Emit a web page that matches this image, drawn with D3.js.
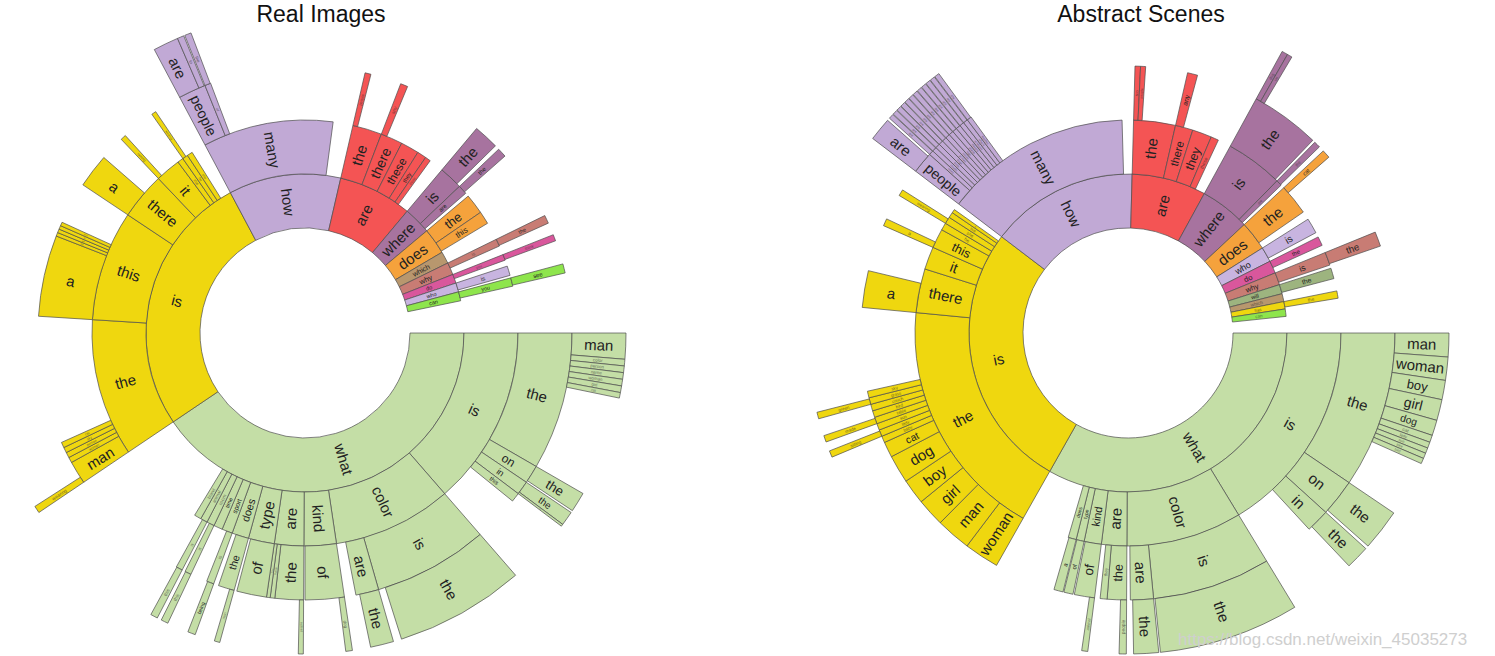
<!DOCTYPE html>
<html>
<head>
<meta charset="utf-8">
<script src="https://cdn.jsdelivr.net/npm/d3@7"></script>
<style>
  body { margin: 0; background: #fff; }
  svg { display: block; }
</style>
</head>
<body>
<svg id="chart" width="1495" height="656"></svg>
<script>
// ---- Data: share of questions for each word sequence (units: 1/360 of all questions) ----
// Children are listed in order; each child is packed from its parent's start.

// Real Images
const realLevel1 = [
  ["what", 146], ["is", 96], ["how", 41], ["are", 27], ["where", 10], ["does", 9.5],
  ["which", 4.4], ["why", 4.5], ["do", 3.3], ["who", 3.3], ["can", 3.3]
];
const realLevel2 = [
  ["what is", 49], ["what color", 32.5], ["what kind", 8.8], ["what are", 8], ["what type", 7.1],
  ["what does", 4.6], ["what sport", 2.9], ["what time", 2.4], ["what room", 2.1], ["what animal", 1.9], ["what brand", 1.9],
  ["is the", 37.6], ["is this", 30.1], ["is there", 12.8], ["is it", 6.9], ["is that", 1.6], ["is he", 1.5], ["is she", 1.5],
  ["how many", 35.6],
  ["are the", 8], ["are there", 6], ["are these", 5], ["are they", 2.5], ["are those", 1.5],
  ["where is", 6.5], ["where are", 2.5],
  ["does the", 5.5], ["does this", 3.5],
  ["why is", 2],
  ["do you", 1.6],
  ["who is", 2.6],
  ["can you", 2.3]
];
const realLevel3 = [
  ["what is the", 30], ["what is on", 4], ["what is in", 3], ["what is this", 2],
  ["what color is", 25], ["what color are", 5],
  ["what kind of", 8.5],
  ["what are the", 6.2], ["what are these", 1], ["what are they", 0.8],
  ["what type of", 6.5],
  ["what does the", 3.5],
  ["what sport is", 1.6],
  ["what room is", 1.4],
  ["what animal is", 1.4],
  ["is the man", 5], ["is the woman", 1.2], ["is the person", 1.2], ["is the sky", 1.2], ["is the cat", 1.2],
  ["is this a", 17.7], ["is this the", 0.8], ["is this an", 0.8], ["is this in", 0.8], ["is this your", 0.8],
  ["is there a", 7.4],
  ["is it raining", 1.2],
  ["is he wearing", 1.0],
  ["how many people", 6], ["how many of", 1.3],
  ["are the people", 1.3],
  ["are there any", 1.6],
  ["where is the", 5.5],
  ["where are the", 2],
  ["why is the", 1.8],
  ["do you think", 1.4],
  ["can you see", 2]
];
const realLevel4 = [
  ["what is the man", 4.7], ["what is the color", 1.2], ["what is the person", 1.2], ["what is the name", 1.2],
  ["what is the woman", 1.2], ["what is the girl", 1.2], ["what is the cat", 1.0],
  ["what is on the", 3.6],
  ["what is in the", 2.6], ["what is in this", 0.4],
  ["what color is the", 23.5],
  ["what color are the", 4.2],
  ["what kind of dog", 1.2],
  ["what are the people", 0.9],
  ["what does the man", 1.0],
  ["what sport is being", 1.4],
  ["what room is this", 1.3],
  ["what animal is this", 1.3],
  ["is the man wearing", 1.3],
  ["how many people are", 4.6], ["how many people in", 1.2],
  ["how many of the", 1.2]
];
const realColors = {
  what: "#c4dea6", is: "#efd70f", how: "#c1a9d5", are: "#f45454", where: "#a7739f",
  does: "#f5a23c", which: "#b8976e", why: "#c87c74", do: "#d9579c", who: "#c8b4e0", can: "#8ee54c"
};

// Abstract Scenes
const absLevel1 = [
  ["what", 119.5], ["is", 97.8], ["how", 54.2], ["are", 27.2], ["where", 18.3], ["does", 10.7],
  ["who", 5.5], ["do", 4.6], ["why", 4.5], ["will", 3.4], ["which", 2.9], ["has", 2.7], ["can", 2.7]
];
const absLevel2 = [
  ["what is", 58.7], ["what color", 31.6], ["what are", 6.9], ["what kind", 4.7], ["what type", 2.2], ["what does", 2.2],
  ["is the", 66], ["is there", 12], ["is it", 6.2], ["is this", 5.3], ["is he", 2], ["is she", 1.9], ["is that", 1.5], ["is a", 1],
  ["how many", 51.1],
  ["are the", 11.4], ["are there", 4.8], ["are they", 5.3], ["are these", 2.1],
  ["where is", 15.7], ["where are", 1.6],
  ["does the", 8.4],
  ["who is", 4.2],
  ["do the", 2.5],
  ["why is", 3.6],
  ["will the", 2.9],
  ["has the", 2]
];
const absLevel3 = [
  ["what is the", 34.1], ["what is on", 8.1], ["what is in", 5.1],
  ["what color is", 25.8], ["what color are", 5],
  ["what are the", 4.2], ["what are they", 1.5],
  ["what kind of", 4.4],
  ["what type of", 2],
  ["what does a", 2],
  ["is the woman", 7.6], ["is the man", 7.6], ["is the girl", 6.1], ["is the boy", 5.5], ["is the dog", 6.1],
  ["is the cat", 3.4], ["is the baby", 1.45], ["is the lady", 1.45], ["is the sun", 1.45], ["is the table", 1.45],
  ["is the bird", 1.45], ["is the couch", 1.45], ["is the grass", 1.45], ["is the sky", 1.45],
  ["is there a", 8],
  ["is this a", 1.6],
  ["is she wearing", 1.4],
  ["how many people", 4.7], ["how many trees", 1], ["how many clouds", 1], ["how many birds", 1], ["how many dogs", 1],
  ["how many pillows", 1], ["how many books", 1], ["how many logs", 1], ["how many plants", 1], ["how many flowers", 1],
  ["how many windows", 1], ["how many chairs", 1], ["how many bushes", 1],
  ["are the two", 1.2], ["are the people", 1.1],
  ["are there any", 2.2],
  ["where is the", 15.1],
  ["where are the", 1.4],
  ["does the cat", 1.8],
  ["why is the", 3.2]
];
const absLevel4 = [
  ["what is the man", 4.3], ["what is the woman", 4.2], ["what is the boy", 3.5], ["what is the girl", 3.8],
  ["what is the dog", 2.8], ["what is the cat", 1.3], ["what is the lady", 1.1], ["what is the sun", 1.0],
  ["what is the tree", 1.0], ["what is the bird", 1.0],
  ["what is on the", 7.5],
  ["what is in the", 4.3],
  ["what color is the", 25.5],
  ["what color are the", 4.5],
  ["what are the people", 1.3],
  ["what kind of animal", 1.1],
  ["is the lady sitting", 1.2], ["is the table made", 1.2], ["is the grass green", 1.2],
  ["how many people are", 4.2],
  ["how many trees are", 0.9], ["how many clouds are", 0.9], ["how many birds are", 0.9], ["how many dogs are", 0.9],
  ["how many pillows are", 0.9], ["how many books are", 0.9], ["how many logs are", 0.9], ["how many plants are", 0.9],
  ["how many flowers are", 0.9], ["how many windows are", 0.9], ["how many chairs are", 0.9], ["how many bushes are", 0.9],
  ["where is the dog", 1.1], ["where is the cat", 0.9]
];
const absColors = {
  what: "#c4dea6", is: "#efd70f", how: "#c1a9d5", are: "#f45454", where: "#a7739f",
  does: "#f5a23c", who: "#c8b4e0", do: "#d9579c", why: "#c87c74", will: "#9db47f",
  which: "#b8976e", has: "#efd70f", can: "#8ee54c"
};

const titles = ["Real Images", "Abstract Scenes"];
const watermark = "https://blog.csdn.net/weixin_45035273";

// ---- Drawing ----
const svg = d3.select("#chart");
const FULL = 360;
const START = Math.PI / 2; // first word starts at 3 o'clock, clockwise
const angle = d3.scaleLinear().domain([0, FULL]).range([0, 2 * Math.PI]);
const radius = d3.scaleLinear().domain([0, 1]).range([105, 159]); // ring index -> radius
const FONT = "'Liberation Sans', Arial, Helvetica, sans-serif";

function buildNodes(levels) {
  const nodes = [];
  const next = new Map([["", 0]]);
  levels.forEach(level => level.forEach(([path, value]) => {
    const words = path.split(" ");
    const parent = words.slice(0, -1).join(" ");
    if (!next.has(parent)) return;
    const s = next.get(parent);
    next.set(parent, s + value);
    next.set(path, s);
    nodes.push({ path, word: words[words.length - 1], root: words[0], depth: words.length, s, e: s + value });
  }));
  return nodes;
}

function drawSunburst(cx, cy, levels, colors, title, titleX) {
  const g = svg.append("g").attr("transform", `translate(${cx},${cy})`);
  const nodes = buildNodes(levels);
  const arc = d3.arc()
    .startAngle(d => START + angle(d.s))
    .endAngle(d => START + angle(d.e))
    .innerRadius(d => radius(d.depth - 1))
    .outerRadius(d => radius(d.depth));

  g.selectAll("path").data(nodes).join("path")
    .attr("d", arc)
    .attr("fill", d => colors[d.root])
    .attr("stroke", "#4d4d4d")
    .attr("stroke-width", 0.7);

  const ringW = radius(1) - radius(0);
  g.selectAll("text").data(nodes).join("text")
    .each(function(d) {
      const a0 = START + angle(d.s), a1 = START + angle(d.e);
      const deg = (a0 + a1) / 2 * 180 / Math.PI;
      const nd = ((deg % 360) + 360) % 360;
      const rm = (radius(d.depth - 1) + radius(d.depth)) / 2;
      const arcLen = (a1 - a0) * rm;
      const fs = Math.max(1.5, Math.min(15, arcLen * 0.72, ringW * 0.9 / (d.word.length * 0.56)));
      d3.select(this)
        .attr("transform", `rotate(${deg - 90}) translate(${rm},0) rotate(${nd < 180 ? 0 : 180})`)
        .attr("font-size", fs.toFixed(2))
        .attr("opacity", fs < 5 ? 0.6 : 1);
    })
    .attr("text-anchor", "middle")
    .attr("dy", "0.35em")
    .attr("font-family", FONT)
    .attr("fill", "#222")
    .text(d => d.word);

  svg.append("text")
    .attr("x", titleX).attr("y", 22)
    .attr("text-anchor", "middle")
    .attr("font-family", FONT)
    .attr("font-size", 23)
    .attr("fill", "#111")
    .text(title);
}

drawSunburst(305, 333, [realLevel1, realLevel2, realLevel3, realLevel4], realColors, titles[0], 321);
drawSunburst(1128, 333, [absLevel1, absLevel2, absLevel3, absLevel4], absColors, titles[1], 1141);

// faint watermark
svg.append("text")
  .attr("x", 1178).attr("y", 645)
  .attr("font-family", FONT).attr("font-size", 17)
  .attr("fill", "#cfcfcf")
  .text(watermark);
</script>
</body>
</html>
